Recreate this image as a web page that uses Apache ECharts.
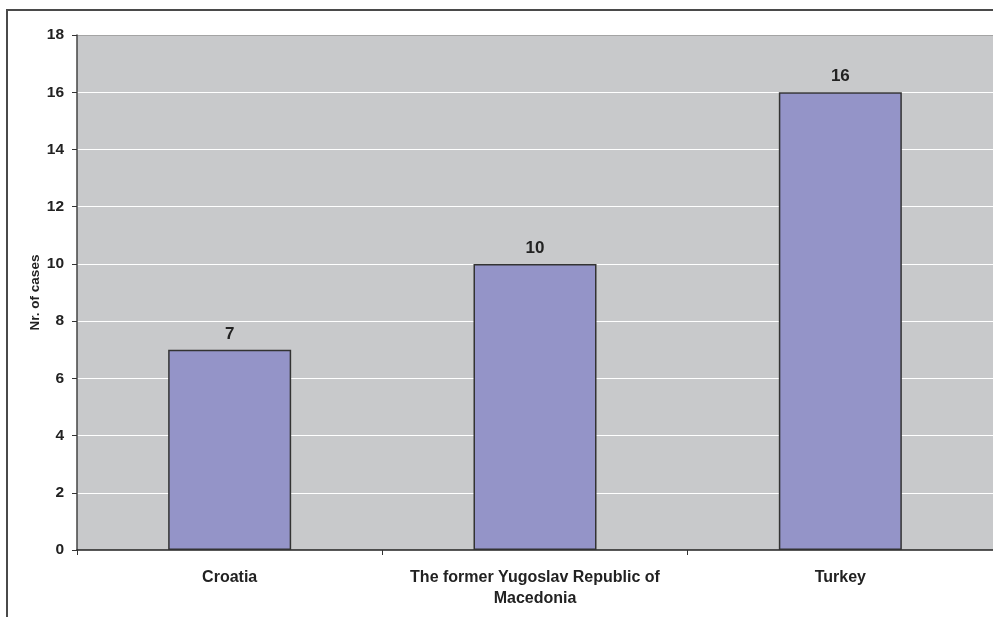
<!DOCTYPE html>
<html>
<head>
<meta charset="utf-8">
<script src="https://cdn.jsdelivr.net/npm/echarts@6/dist/echarts.min.js"></script>
<style>
  html, body { margin: 0; padding: 0; background: #ffffff; }
  #chart { width: 993px; height: 617px; }
</style>
</head>
<body>
<div id="chart"></div>
<script>
// Cases per country
const countries = ['Croatia', 'The former Yugoslav Republic of\nMacedonia', 'Turkey'];
const cases = [7, 10, 16];
const yMin = 0;
const yMax = 18;
const yStep = 2;

const FONT = '"Liberation Sans", Arial, Helvetica, sans-serif';

// white gridlines, with the top edge of the plot drawn in grey
const splitColors = [];
for (let v = yMin; v <= yMax; v += yStep) {
  splitColors.push(v === yMax ? '#a4a4a4' : '#ffffff');
}

const chart = echarts.init(document.getElementById('chart'), null, { renderer: 'canvas' });

chart.setOption({
  animation: false,
  backgroundColor: '#ffffff',
  grid: {
    left: 77,
    top: 35,
    width: 919,
    bottom: 67,
    show: true,
    backgroundColor: '#c8c9cb',
    borderWidth: 0
  },
  graphic: [
    {
      type: 'line',
      shape: { x1: 6, y1: 10, x2: 993, y2: 10 },
      style: { stroke: '#4a4a4a', lineWidth: 2 }
    },
    {
      type: 'line',
      shape: { x1: 7, y1: 9, x2: 7, y2: 617 },
      style: { stroke: '#4a4a4a', lineWidth: 2 }
    }
  ],
  xAxis: {
    type: 'category',
    data: countries,
    boundaryGap: true,
    axisLine: { show: true, lineStyle: { color: '#222222', width: 1.5 } },
    axisTick: { show: true, alignWithLabel: false, length: 5, lineStyle: { color: '#333333', width: 1 } },
    axisLabel: {
      interval: 0,
      margin: 17,
      color: '#222222',
      fontFamily: FONT,
      fontWeight: 'bold',
      fontSize: 16,
      lineHeight: 21,
      align: 'center'
    },
    splitLine: { show: false }
  },
  yAxis: {
    type: 'value',
    min: yMin,
    max: yMax,
    interval: yStep,
    name: 'Nr. of cases',
    nameLocation: 'middle',
    nameGap: 35,
    nameMoveOverlap: false,
    nameTextStyle: {
      color: '#222222',
      fontFamily: FONT,
      fontWeight: 'bold',
      fontSize: 13.5
    },
    axisLine: { show: true, lineStyle: { color: '#444444', width: 1.5 } },
    axisTick: { show: true, length: 5, lineStyle: { color: '#333333', width: 1 } },
    axisLabel: {
      margin: 13,
      color: '#222222',
      fontFamily: FONT,
      fontWeight: 'bold',
      fontSize: 15.5
    },
    splitLine: { show: true, lineStyle: { color: splitColors, width: 1.2 } }
  },
  series: [
    {
      type: 'bar',
      data: cases,
      barWidth: 123,
      itemStyle: {
        color: '#9494c8',
        borderColor: '#333333',
        borderWidth: 1.5
      },
      label: {
        show: true,
        position: 'top',
        distance: 7,
        color: '#222222',
        fontFamily: FONT,
        fontWeight: 'bold',
        fontSize: 17
      }
    }
  ]
});
</script>
</body>
</html>
